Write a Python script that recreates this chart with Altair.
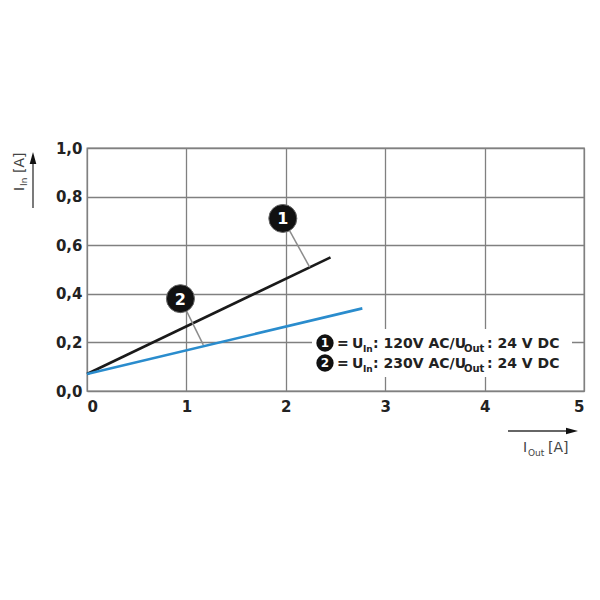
import altair as alt
import pandas as pd

# ---------------- data ----------------
series = ["1", "2"]
line_x = [[0.0, 2.45], [0.0, 2.77]]
line_y = [[0.07, 0.55], [0.07, 0.34]]
line_colors = ["#1a1a1a", "#2a8ccd"]

callout_x = [1.97, 0.94]
callout_y = [0.71, 0.38]
leader_end_x = [2.24, 1.17]
leader_end_y = [0.51, 0.19]

x_ticks = [0, 1, 2, 3, 4, 5]
y_ticks = [0.0, 0.2, 0.4, 0.6, 0.8, 1.0]

legend_in = ["120V AC", "230V AC"]
legend_out = "24 V DC"

W, H = 497, 243
FONT = "DejaVu Sans"

# ---------------- tables ----------------
rows = []
for s, xs, ys in zip(series, line_x, line_y):
    for xv, yv in zip(xs, ys):
        rows.append({"series": s, "x": xv, "y": yv})
lines_df = pd.DataFrame(rows)

call_df = pd.DataFrame({
    "series": series,
    "cx": callout_x, "cy": callout_y,
    "lx": leader_end_x, "ly": leader_end_y,
})

one = pd.DataFrame({"k": [0]})

xscale = alt.Scale(domain=[0, 5], nice=False, zero=True)
yscale = alt.Scale(domain=[0, 1], nice=False, zero=True)

xaxis = alt.Axis(values=x_ticks, labelExpr="format(datum.value, 'd')", title=None,
                 grid=True, ticks=False, domain=False, labelPadding=8,
                 labelFont=FONT, labelFontSize=15, labelFontWeight="bold",
                 labelColor="#222", gridColor="#808080", gridWidth=1.3)
yaxis = alt.Axis(values=y_ticks,
                 labelExpr="replace(format(datum.value, '.1f'), '.', ',')",
                 title=None, grid=True, ticks=False, domain=False, labelPadding=5,
                 labelFont=FONT, labelFontSize=15, labelFontWeight="bold",
                 labelColor="#222", gridColor="#808080", gridWidth=1.3)

lines = alt.Chart(lines_df).mark_line(strokeWidth=2.6).encode(
    x=alt.X("x:Q", scale=xscale, axis=xaxis),
    y=alt.Y("y:Q", scale=yscale, axis=yaxis),
    color=alt.Color("series:N", scale=alt.Scale(domain=series, range=line_colors), legend=None),
    detail="series:N",
)

leaders = alt.Chart(call_df).mark_rule(color="#8c8c8c", strokeWidth=1.5).encode(
    x=alt.X("cx:Q", scale=xscale), y=alt.Y("cy:Q", scale=yscale),
    x2="lx:Q", y2="ly:Q",
)

circles = alt.Chart(call_df).mark_point(shape="circle", filled=True, size=784,
                                        fill="#111111", stroke="#666666",
                                        strokeWidth=1, opacity=1).encode(
    x=alt.X("cx:Q", scale=xscale), y=alt.Y("cy:Q", scale=yscale),
)

circle_nums = alt.Chart(call_df).mark_text(font=FONT, fontSize=16, fontWeight="bold",
                                           color="white", baseline="middle",
                                           align="center", dy=1).encode(
    x=alt.X("cx:Q", scale=xscale), y=alt.Y("cy:Q", scale=yscale),
    text="series:N",
)


def txt(x, y, s, size, bold=False, angle=0, color="#222222", align="left",
        baseline="alphabetic"):
    return alt.Chart(one).mark_text(
        text=s, font=FONT, fontSize=size,
        fontWeight="bold" if bold else "normal",
        angle=angle, align=align, baseline=baseline, color=color,
    ).encode(x=alt.value(x), y=alt.value(y))


def dot(x, y, size, shape="circle", color="#111111"):
    return alt.Chart(one).mark_point(shape=shape, filled=True, size=size,
                                     color=color, opacity=1).encode(
        x=alt.value(x), y=alt.value(y))


def rule(x, y, x2=None, y2=None, color="#222222", width=1.3):
    enc = dict(x=alt.value(x), y=alt.value(y))
    if x2 is not None:
        enc["x2"] = alt.value(x2)
    if y2 is not None:
        enc["y2"] = alt.value(y2)
    return alt.Chart(one).mark_rule(color=color, strokeWidth=width).encode(**enc)


# legend white box
legend_box = alt.Chart(one).mark_rect(color="white").encode(
    x=alt.value(225), x2=alt.value(485), y=alt.value(181), y2=alt.value(229))

layers = [legend_box, lines, leaders, circles, circle_nums]

# legend entries
for i, (s, vin) in enumerate(zip(series, legend_in)):
    base_y = 200 + 20 * i
    layers += [
        dot(238, base_y - 5, 300),
        txt(238, base_y - 5, s, 12, bold=True, color="white", align="center",
            baseline="middle"),
        txt(250, base_y, "=", 14, bold=True),
        txt(265, base_y, "U", 14, bold=True),
        txt(276, base_y + 4, "In", 9, bold=True),
        txt(286, base_y, ": " + vin + "/U", 14, bold=True),
        txt(377, base_y + 4, "Out", 10, bold=True),
        txt(400, base_y, ": " + legend_out, 14, bold=True),
    ]

# y-axis title (rotated) with arrow
layers += [
    txt(-63, 43, "I", 14, angle=270, color="#444444"),
    txt(-60, 38, "In", 9, angle=270, color="#444444"),
    txt(-63, 25, "[A]", 14, angle=270, color="#444444"),
    rule(-54, 60, y2=14, color="#333333", width=1.3),
    dot(-54, 10, 144, shape="M-0.55,1L0,-1L0.55,1Z", color="#111111"),
]

# x-axis title with arrow
layers += [
    txt(436, 304, "I", 14, color="#444444"),
    txt(441, 308, "Out", 9, color="#444444"),
    txt(461, 304, "[A]", 14, color="#444444"),
    rule(421, 283, x2=480, color="#333333", width=1.3),
    dot(485, 283, 144, shape="M-1,-0.55L1,0L-1,0.55Z", color="#111111"),
]

chart = alt.layer(*layers).properties(
    width=W, height=H,
    autosize=alt.AutoSizeParams(type="none"),
    padding={"left": 79, "top": 140, "right": 8, "bottom": 150},
    background="white",
).configure_view(stroke="#7a7a7a", strokeWidth=1.3)

chart.save("out.html", embed_options={"renderer": "svg", "actions": False})
